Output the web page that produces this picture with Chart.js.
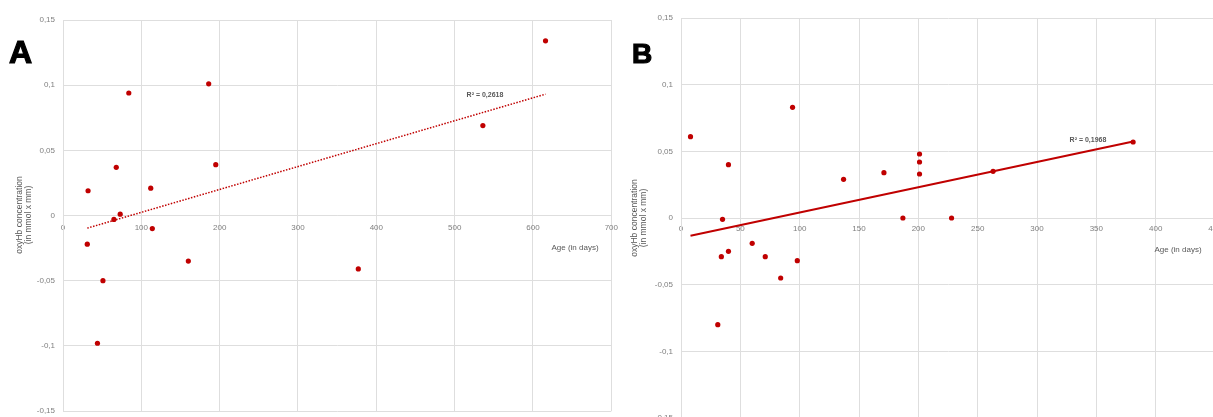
<!DOCTYPE html>
<html>
<head>
<meta charset="utf-8">
<script src="https://cdn.jsdelivr.net/npm/chart.js@4"></script>
<style>
    html, body { margin: 0; padding: 0; width: 1213px; height: 417px; overflow: hidden; background: #fff; }
    canvas { position: absolute; top: 0; }
    #chartA { left: 0; }
    #chartB { left: 600px; }
</style>
</head>
<body>
<canvas id="chartA" width="625" height="424"></canvas>
<canvas id="chartB" width="630" height="431"></canvas>
<script>
// Panel A
const ageA = [32, 68, 84, 112, 186, 195, 616, 536, 65, 73, 114, 31, 160, 51, 44, 377];
const oxyA = [0.019, 0.037, 0.094, 0.021, 0.101, 0.039, 0.134, 0.069, -0.003, 0.001, -0.010, -0.022, -0.035, -0.050, -0.098, -0.041];
const trendAgeA = [31, 616];
const trendOxyA = [-0.0097, 0.0931];
const xTicksA = [0, 100, 200, 300, 400, 500, 600, 700];

// Panel B
const ageB = [8, 94, 40, 137, 171, 201, 201, 201, 263, 381, 35, 34, 40, 60, 71, 84, 98, 31, 187, 228];
const oxyB = [0.061, 0.083, 0.040, 0.029, 0.034, 0.048, 0.042, 0.033, 0.035, 0.057, -0.001, -0.029, -0.025, -0.019, -0.029, -0.045, -0.032, -0.080, 0.000, 0.000];
const trendAgeB = [8, 382];
const trendOxyB = [-0.0133, 0.0575];
const xTicksB = [0, 50, 100, 150, 200, 250, 300, 350, 400, 450];

// Shared y axis
const yTicks = [-0.15, -0.1, -0.05, 0, 0.05, 0.1, 0.15];
const yTickLabels = ['-0,15', '-0,1', '-0,05', '0', '0,05', '0,1', '0,15'];

const yTitle = ['oxyHb concentration', '(in mmol x mm)'];
const xTitle = 'Age (in days)';

const red = '#c00000';
const gridColor = '#dedede';
const tickColor = '#7f7f7f';
const textColor = '#595959';
const fontFamily = "'Liberation Sans', Arial, sans-serif";

const toPoints = (xs, ys) => xs.map((x, i) => ({ x: x, y: ys[i] }));

// Draws panel letter, axis titles and R² text
const textPlugin = (cfg) => ({
    id: 'texts',
    afterDraw: (chart) => {
        const ctx = chart.ctx;
        ctx.save();
        ctx.fillStyle = '#000';
        ctx.strokeStyle = '#000';
        ctx.lineWidth = 1.2;
        ctx.font = `bold ${cfg.letterSize}px ${fontFamily}`;
        ctx.textAlign = 'left';
        ctx.textBaseline = 'alphabetic';
        ctx.fillText(cfg.letter, cfg.letterX, cfg.letterY);
        ctx.strokeText(cfg.letter, cfg.letterX, cfg.letterY);

        ctx.fillStyle = textColor;
        ctx.font = `8.5px ${fontFamily}`;
        ctx.textAlign = 'center';
        ctx.textBaseline = 'middle';
        yTitle.forEach((line, i) => {
            ctx.save();
            ctx.translate(cfg.yTitleX + i * 9, cfg.yTitleY);
            ctx.rotate(-Math.PI / 2);
            ctx.fillText(line, 0, 0);
            ctx.restore();
        });

        ctx.font = `8px ${fontFamily}`;
        ctx.fillText(xTitle, cfg.xTitleX, cfg.xTitleY);

        ctx.font = `bold 7px ${fontFamily}`;
        ctx.fillText(cfg.r2, cfg.r2X, cfg.r2Y);
        ctx.restore();
    }
});

const makeChart = (id, points, trend, trendStyle, xTicks, xMax, yWidth, padding, texts) => {
    const ctx = document.getElementById(id).getContext('2d');
    return new Chart(ctx, {
        type: 'scatter',
        data: {
            datasets: [{
                data: trend,
                showLine: true,
                pointRadius: 0,
                borderColor: red,
                borderWidth: trendStyle.width,
                borderDash: trendStyle.dash,
                order: 1
            }, {
                data: points,
                pointRadius: 2.6,
                pointBorderWidth: 0,
                backgroundColor: red,
                borderColor: red,
                order: 0
            }]
        },
        options: {
            responsive: false,
            animation: false,
            devicePixelRatio: 1,
            layout: { padding: padding },
            plugins: {
                legend: { display: false },
                tooltip: { enabled: false }
            },
            scales: {
                x: {
                    type: 'linear',
                    position: { y: 0 },
                    min: 0,
                    max: xMax,
                    afterBuildTicks: (scale) => { scale.ticks = xTicks.map(v => ({ value: v })); },
                    grid: { color: gridColor, drawTicks: false },
                    border: { color: gridColor },
                    ticks: {
                        padding: texts.xPad,
                        color: tickColor,
                        font: { family: fontFamily, size: 8 },
                        maxRotation: 0,
                        autoSkip: false,
                        callback: (v) => String(v)
                    }
                },
                y: {
                    type: 'linear',
                    min: -0.15,
                    max: 0.15,
                    afterBuildTicks: (scale) => { scale.ticks = yTicks.map(v => ({ value: v })); },
                    afterFit: (scale) => { scale.width = yWidth; },
                    grid: { color: gridColor, drawTicks: false },
                    border: { color: gridColor },
                    ticks: {
                        padding: 8,
                        color: tickColor,
                        font: { family: fontFamily, size: 8 },
                        autoSkip: false,
                        callback: (v, i) => yTickLabels[i]
                    }
                }
            }
        },
        plugins: [textPlugin(texts)]
    });
};

makeChart('chartA',
    toPoints(ageA, oxyA),
    toPoints(trendAgeA, trendOxyA),
    { width: 1.5, dash: [1.5, 1.5] },
    xTicksA, 700, 63,
    { left: 0, top: 20, right: 13, bottom: 13 },
    {
        letter: 'A', letterSize: 32, letterX: 9, letterY: 63,
        yTitleX: 20, yTitleY: 215,
        xTitleX: 575, xTitleY: 248,
        r2: 'R² = 0,2618', r2X: 485, r2Y: 95,
        xPad: 7
    });

makeChart('chartB',
    toPoints(ageB, oxyB),
    toPoints(trendAgeB, trendOxyB),
    { width: 2, dash: [] },
    xTicksB, 450, 81,
    { left: 0, top: 18, right: 15, bottom: 13 },
    {
        letter: 'B', letterSize: 28, letterX: 32, letterY: 63,
        yTitleX: 35, yTitleY: 218,
        xTitleX: 578, xTitleY: 250,
        r2: 'R² = 0,1968', r2X: 488, r2Y: 140,
        xPad: 6
    });
</script>
</body>
</html>
